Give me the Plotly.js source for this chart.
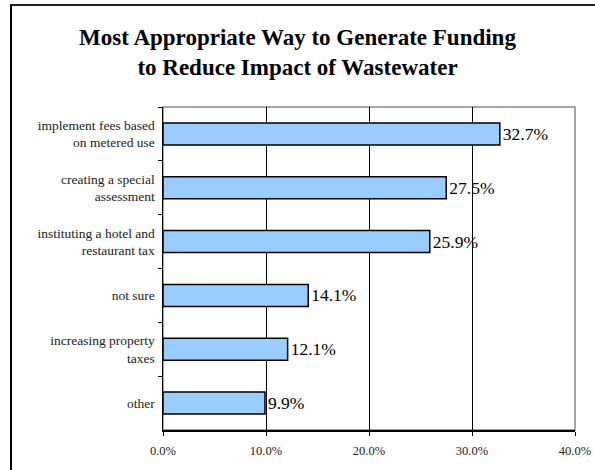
<!DOCTYPE html>
<html>
<head>
<meta charset="utf-8">
<script src="https://cdn.plot.ly/plotly-3.0.1.min.js"></script>
<style>
html,body{margin:0;padding:0;background:#fff;}
#wrap{position:relative;width:595px;height:470px;overflow:hidden;}
#chart{width:595px;height:470px;}
#frame{position:absolute;left:10px;top:4px;width:700px;height:600px;border-left:2px solid #000;border-top:2px solid #222;pointer-events:none;}
</style>
</head>
<body>
<div id="wrap"><div id="chart"></div><div id="frame"></div></div>
<script>
const categories = [
  "implement fees based<br>on metered use",
  "creating a special<br>assessment",
  "instituting a hotel and<br>restaurant tax",
  "not sure",
  "increasing property<br>taxes",
  "other"
];
const values = [32.7, 27.5, 25.9, 14.1, 12.1, 9.9];
const xTicks = [0, 10, 20, 30, 40];
const xTickLabels = ["0.0%", "10.0%", "20.0%", "30.0%", "40.0%"];
const chartTitle = "Most Appropriate Way to Generate Funding<br>to Reduce Impact of Wastewater";

const serif = "'Liberation Serif', 'DejaVu Serif', serif";

const trace = {
  type: "bar",
  orientation: "h",
  x: values,
  y: categories,
  width: 0.41,
  marker: {color: "#99CCFF", line: {color: "#000", width: 1.5}},
  text: values.map(v => v.toFixed(1) + "%"),
  textposition: "outside",
  textfont: {family: serif, size: 17.5, color: "#000"},
  constraintext: "none",
  cliponaxis: false,
  hoverinfo: "none"
};

const layout = {
  width: 595, height: 470,
  margin: {l: 163, r: 20, t: 107, b: 40},
  paper_bgcolor: "#fff", plot_bgcolor: "#fff",
  showlegend: false,
  title: {
    text: "<b>" + chartTitle + "</b>",
    font: {family: serif, size: 23, color: "#000"},
    x: 0.5, xanchor: "center", yref: "container", y: 0.905, yanchor: "top"
  },
  xaxis: {
    range: [0, 40],
    tickvals: xTicks, ticktext: xTickLabels,
    showgrid: true, gridcolor: "#000", gridwidth: 1,
    showline: true, linecolor: "#000", linewidth: 1.5,
    ticks: "outside", ticklen: 4, tickcolor: "#000",
    tickfont: {family: serif, size: 12.5, color: "#222"},
    ticklabelstandoff: 4,
    zeroline: false, fixedrange: true
  },
  yaxis: {
    type: "category",
    autorange: "reversed",
    showgrid: false,
    showline: true, linecolor: "#000", linewidth: 1.5,
    ticks: "outside", ticklen: 4, tickcolor: "#000", tickson: "boundaries",
    tickfont: {family: serif, size: 13.5, color: "#222"},
    ticklabelstandoff: 4,
    fixedrange: true
  },
  shapes: [{
    type: "rect", xref: "paper", yref: "paper", x0: 0, x1: 1, y0: 0, y1: 1,
    line: {color: "#888", width: 1.5}, layer: "below"
  }]
};

Plotly.newPlot("chart", [trace], layout, {displayModeBar: false, staticPlot: true});
</script>
</body>
</html>
